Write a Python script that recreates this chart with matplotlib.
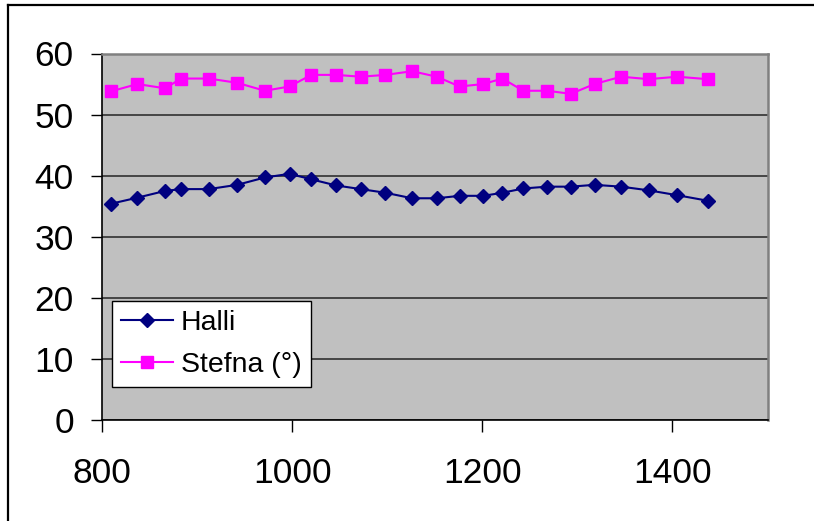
import matplotlib
matplotlib.use("Agg")

import matplotlib.pyplot as plt
from matplotlib.lines import Line2D


# -----------------------------
# Data
# -----------------------------
X_VALUES = [
    809, 837, 866, 883, 912, 942, 971, 997, 1020, 1046, 1072, 1098, 1126,
    1152, 1176, 1201, 1221, 1243, 1268, 1293, 1318, 1346, 1375, 1405, 1437,
]

HALLI = [
    35.4, 36.4, 37.5, 37.8, 37.8, 38.5, 39.7, 40.3, 39.4, 38.4, 37.8, 37.2,
    36.3, 36.3, 36.7, 36.7, 37.2, 37.9, 38.2, 38.2, 38.5, 38.2, 37.6, 36.8,
    35.9,
]

STEFNA = [
    53.8, 55.0, 54.3, 55.9, 55.9, 55.2, 53.9, 54.6, 56.5, 56.5, 56.2, 56.5,
    57.1, 56.2, 54.6, 55.0, 55.9, 53.9, 53.9, 53.4, 55.0, 56.2, 55.8, 56.2,
    55.8,
]

SERIES_LABELS = ["Halli", "Stefna (°)"]

X_TICKS = [800, 1000, 1200, 1400]
Y_TICKS = [0, 10, 20, 30, 40, 50, 60]


# -----------------------------
# Plot
# -----------------------------
def make_chart():
    plt.rcParams["font.family"] = ["Liberation Sans", "DejaVu Sans"]

    fig = plt.figure(figsize=(8.14, 5.21), dpi=100)
    fig.patch.set_facecolor("white")

    # plot area placed like the Excel original
    ax = fig.add_axes([102.3 / 814, 1 - 420 / 521,
                       (767.5 - 102.3) / 814, 366.5 / 521])
    ax.set_facecolor("#c0c0c0")

    ax.plot(X_VALUES, HALLI, color="#000080", linewidth=1.5,
            marker="D", markersize=7.5, label=SERIES_LABELS[0], zorder=3)
    ax.plot(X_VALUES, STEFNA, color="#ff00ff", linewidth=1.5,
            marker="s", markersize=8, label=SERIES_LABELS[1], zorder=3)

    ax.set_xlim(800, 1500)
    ax.set_ylim(0, 60)
    ax.set_xticks(X_TICKS)
    ax.set_yticks(Y_TICKS)

    ax.yaxis.grid(True, color="#3c3c3c", linewidth=1.3)
    ax.set_axisbelow(True)

    for side in ["left", "bottom"]:
        ax.spines[side].set_color("black")
        ax.spines[side].set_linewidth(1.2)
    for side in ["top", "right"]:
        ax.spines[side].set_color("#808080")
        ax.spines[side].set_linewidth(1.8)

    ax.tick_params(axis="x", direction="out", length=8.5, width=1,
                   pad=18, labelsize=25.5)
    ax.tick_params(axis="y", direction="out", length=8, width=1,
                   pad=12.5, labelsize=25.5)

    legend = ax.legend(
        loc="lower left",
        bbox_to_anchor=(0.0146, 0.09),
        borderaxespad=0,
        fontsize=20.5,
        frameon=True,
        fancybox=False,
        handlelength=1.8,
        handletextpad=0.28,
        borderpad=0.33,
        labelspacing=0.55,
    )
    frame = legend.get_frame()
    frame.set_facecolor("white")
    frame.set_edgecolor("black")
    frame.set_linewidth(1.0)
    frame.set_alpha(1)

    # border of the chart object (cropped at right and bottom)
    fig.add_artist(Line2D([8 / 814, 1], [1 - 4.5 / 521, 1 - 4.5 / 521],
                          transform=fig.transFigure, color="black",
                          linewidth=1.6))
    fig.add_artist(Line2D([8 / 814, 8 / 814], [0, 1 - 4.5 / 521],
                          transform=fig.transFigure, color="black",
                          linewidth=1.6))

    fig.savefig("out.png", dpi=100)
    plt.close(fig)


def main():
    make_chart()


if __name__ == "__main__":
    main()
